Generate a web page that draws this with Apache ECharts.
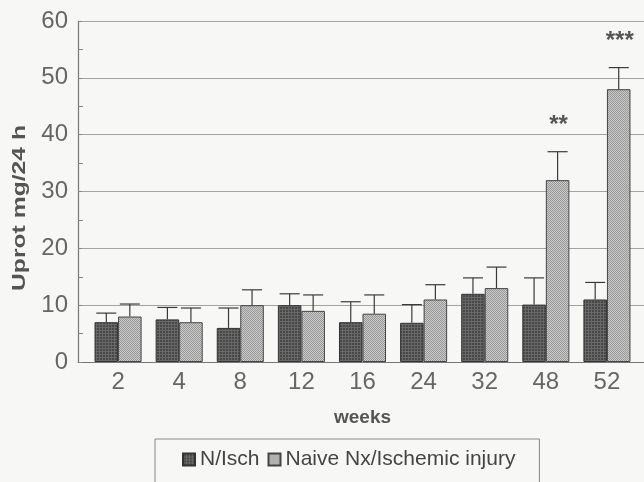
<!DOCTYPE html>
<html>
<head>
<meta charset="utf-8">
<script src="https://cdn.jsdelivr.net/npm/echarts@6/dist/echarts.min.js"></script>
<style>
  html, body { margin: 0; padding: 0; background: #f7f7f5; }
  #chart { width: 644px; height: 482px; }
</style>
</head>
<body>
<div id="chart"></div>
<script>
// weeks after surgery
const weeks = ['2', '4', '8', '12', '16', '24', '32', '48', '52']
// N/Isch group, mean and upper error
const nIsch = [7.0, 7.5, 6.0, 10.0, 7.0, 6.9, 12.0, 10.1, 11.0]
const nIschErr = [1.6, 2.1, 3.5, 2.0, 3.6, 3.2, 2.8, 4.7, 3.0]
// Naive Nx/Ischemic injury group
const naive = [8.0, 7.0, 10.0, 9.0, 8.5, 11.0, 13.0, 32.0, 48.0]
const naiveErr = [2.2, 2.5, 2.7, 2.8, 3.3, 2.6, 3.7, 5.0, 3.8]
const naiveSig = ['', '', '', '', '', '', '', '**', '***']
const yTicks = [0, 10, 20, 30, 40, 50, 60]

const FONT = 'Liberation Sans, Arial, sans-serif'
const BAR_FRAC = 0.385

// small tiles to mimic the printed screen texture
function tile(size, draw) {
  const c = document.createElement('canvas')
  c.width = size
  c.height = size
  draw(c.getContext('2d'))
  return { image: c, repeat: 'repeat' }
}
const darkFill = tile(3, function (ctx) {
  ctx.fillStyle = '#484848'
  ctx.fillRect(0, 0, 3, 3)
  ctx.fillStyle = '#686868'
  ctx.fillRect(0, 0, 3, 1)
  ctx.fillRect(0, 0, 1, 3)
})
const lightFill = tile(2, function (ctx) {
  ctx.fillStyle = '#cbcbcb'
  ctx.fillRect(0, 0, 2, 2)
  ctx.fillStyle = '#979797'
  ctx.fillRect(0, 0, 1, 1)
  ctx.fillRect(1, 1, 1, 1)
})

function errorSeries(vals, errs, side, sig) {
  return {
    type: 'custom',
    xAxisIndex: 1,
    yAxisIndex: 1,
    silent: true,
    z: 3,
    encode: { x: 0, y: [1, 2] },
    data: vals.map(function (v, i) { return [i, v, v + errs[i]] }),
    renderItem: function (params, api) {
      const i = api.value(0)
      const bw = api.size([1, 0])[0] * BAR_FRAC
      const base = api.coord([i, api.value(1)])
      const top = api.coord([i, api.value(2)])
      const x = base[0] + side * bw / 2
      const children = [
        { type: 'line', shape: { x1: x, y1: base[1], x2: x, y2: top[1] },
          style: { stroke: '#3a3a3a', lineWidth: 1.2 } },
        { type: 'line', shape: { x1: x - 10, y1: top[1], x2: x + 10, y2: top[1] },
          style: { stroke: '#3a3a3a', lineWidth: 1.2 } }
      ]
      if (sig && sig[params.dataIndex]) {
        children.push({
          type: 'text',
          style: {
            x: x + 1, y: top[1] - 26, text: sig[params.dataIndex],
            font: 'bold 24px ' + FONT, fill: '#555',
            align: 'center', verticalAlign: 'middle'
          }
        })
      }
      return { type: 'group', children: children }
    }
  }
}

const chart = echarts.init(document.getElementById('chart'), null, { renderer: 'canvas' })

chart.setOption({
  backgroundColor: '#f7f7f5',
  animation: false,
  textStyle: { fontFamily: FONT },
  grid: [
    { left: 78, top: 21, right: -20, bottom: 120 },
    { left: 87.5, top: 21, right: 6.5, bottom: 120 }
  ],
  xAxis: [
    {
      gridIndex: 0, type: 'value', min: 0, max: 1,
      axisLine: { show: true, onZero: false, lineStyle: { color: '#777', width: 1.2 } },
      axisTick: { show: false }, axisLabel: { show: false }, splitLine: { show: false }
    },
    {
      gridIndex: 1, type: 'category', data: weeks,
      name: 'weeks', nameLocation: 'middle', nameGap: 46,
      nameTextStyle: { fontFamily: FONT, fontWeight: 'bold', fontSize: 19, color: '#555' },
      axisLine: { show: false }, axisTick: { show: false },
      axisLabel: { fontFamily: FONT, fontSize: 24, color: '#666', margin: 8 }
    }
  ],
  yAxis: [
    {
      gridIndex: 0, type: 'value', min: yTicks[0], max: yTicks[yTicks.length - 1], interval: 10,
      axisLine: { show: true, lineStyle: { color: '#777', width: 1.2 } },
      axisTick: { show: true, inside: true, length: 4, lineStyle: { color: '#888' } },
      minorTick: { show: true, splitNumber: 2, length: 5, lineStyle: { color: '#888' } },
      axisLabel: { fontFamily: FONT, fontSize: 24, color: '#666', margin: 10 },
      splitLine: { show: true, lineStyle: { color: '#a3a3a3', width: 1 } }
    },
    {
      gridIndex: 1, type: 'value', min: yTicks[0], max: yTicks[yTicks.length - 1],
      axisLine: { show: false }, axisTick: { show: false },
      axisLabel: { show: false }, splitLine: { show: false }
    }
  ],
  legend: {
    left: 155, top: 439,
    padding: [10, 24, 30, 27],
    borderColor: '#888', borderWidth: 1,
    itemWidth: 12, itemHeight: 12, itemGap: 8,
    icon: 'rect',
    textStyle: { fontFamily: FONT, fontSize: 21, color: '#444' },
    data: ['N/Isch', 'Naive Nx/Ischemic injury']
  },
  graphic: [{
    type: 'text',
    x: 20, y: 208, rotation: Math.PI / 2, scaleX: 1.3,
    style: {
      text: 'Uprot mg/24 h', font: 'bold 19px ' + FONT, fill: '#555',
      align: 'center', verticalAlign: 'middle'
    }
  }],
  series: [
    {
      name: 'N/Isch', type: 'bar', xAxisIndex: 1, yAxisIndex: 1,
      data: nIsch, barWidth: (BAR_FRAC * 100) + '%', barGap: '0%',
      itemStyle: { color: darkFill, borderColor: '#333', borderWidth: 1 }
    },
    {
      name: 'Naive Nx/Ischemic injury', type: 'bar', xAxisIndex: 1, yAxisIndex: 1,
      data: naive, barWidth: (BAR_FRAC * 100) + '%', barGap: '0%',
      itemStyle: { color: lightFill, borderColor: '#444', borderWidth: 1 }
    },
    errorSeries(nIsch, nIschErr, -1, null),
    errorSeries(naive, naiveErr, 1, naiveSig)
  ]
})
</script>
</body>
</html>
